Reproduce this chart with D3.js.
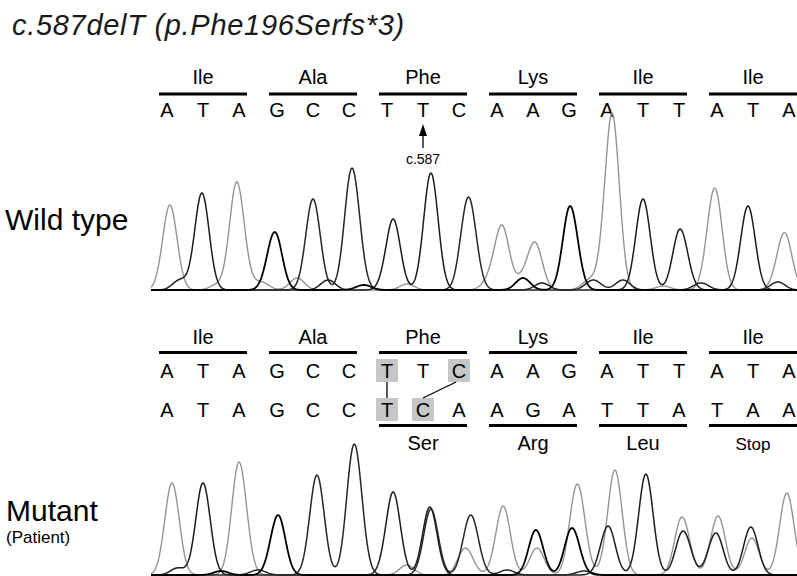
<!DOCTYPE html>
<html>
<head>
<meta charset="utf-8">
<script src="https://cdn.jsdelivr.net/npm/d3@7.9.0/dist/d3.min.js"></script>
<style>
  body { margin: 0; background: #fff; }
  svg { display: block; font-family: "Liberation Sans", Arial, sans-serif; }
</style>
</head>
<body>
<div id="chart"></div>
<script>
const title = 'c.587delT (p.Phe196Serfs*3)';
const codonsWild = ['Ile', 'Ala', 'Phe', 'Lys', 'Ile', 'Ile'];
const codonsShifted = [null, null, 'Ser', 'Arg', 'Leu', 'Stop'];
const basesWild = 'ATAGCCTTCAAGATTATA'.split('');
const basesMutant = 'ATAGCCTCAAGATTATAA'.split('');
const markerBase = 7;
const markerLabel = 'c.587';
const shadedTop = [6, 8];
const shadedBottom = [6, 7];
const shiftLinks = [[6, 6], [8, 7]];

// [base position, signal height, channel]
const peaksWild = [
  [0.08, 85, 'A'], [0.97, 97, 'T'], [1.94, 108, 'A'], [2.94, 58, 'G'], [4.0, 91, 'C'], [5.08, 122, 'C'],
  [6.17, 71, 'T'], [7.22, 117, 'T'], [8.25, 93, 'C'], [9.14, 63, 'A'], [10.06, 46, 'A'], [11.03, 84, 'G'],
  [12.14, 177, 'A'], [13.0, 91, 'T'], [14.03, 61, 'T'], [14.94, 102, 'A'], [15.86, 84, 'T'], [16.89, 52, 'A'],
  [0.36, 10, 'T'], [1.39, 5, 'A'], [2.58, 8, 'A'], [3.56, 12, 'A'], [4.42, 10, 'T'], [5.39, 5, 'G'],
  [6.56, 6, 'A'], [8.8, 8, 'A'], [9.7, 10, 'A'], [9.72, 12, 'G'], [10.25, 7, 'T'], [11.55, 10, 'A'],
  [11.64, 10, 'C'], [12.44, 10, 'C'], [13.56, 4, 'A'], [14.58, 7, 'C'], [16.7, 8, 'A'], [16.69, 8, 'C'],
];

const peaksMutant = [
  [0.14, 92, 'A'], [1.0, 92, 'T'], [2.0, 113, 'A'], [3.03, 60, 'G'], [4.11, 100, 'C'], [5.14, 131, 'C'],
  [6.17, 83, 'T'], [7.19, 68, 'T'], [7.22, 66, 'C'], [8.31, 60, 'C'], [8.17, 27, 'A'], [9.17, 69, 'A'],
  [10.08, 45, 'G'], [10.11, 27, 'A'], [11.08, 47, 'G'], [11.22, 91, 'A'], [12.22, 105, 'A'], [12.03, 49, 'T'],
  [13.08, 101, 'T'], [14.08, 58, 'A'], [14.11, 44, 'T'], [15.03, 59, 'A'], [14.97, 42, 'T'], [15.94, 48, 'T'],
  [15.97, 37, 'A'], [16.94, 82, 'A'],
  [0.3, 7, 'T'], [1.5, 4, 'G'], [2.5, 5, 'C'], [6.55, 10, 'A'], [9.28, 5, 'C'], [11.4, 4, 'C'],
];

const channelStyle = {
  A: { color: '#949494', width: 1.4 },
  C: { color: '#262626', width: 1.5 },
  G: { color: '#000', width: 1.8 },
  T: { color: '#1c1c1c', width: 1.5 },
};

const width = 797;
const height = 576;

const svg = d3.select('#chart')
  .append('svg')
  .attr('width', width)
  .attr('height', height);

const codonX = d3.scaleBand()
  .domain(d3.range(codonsWild.length))
  .range([159, 797])
  .paddingInner(0.2);

const baseOffset = 36;
const basesX = d3.range(basesWild.length).map((i) =>
  codonX(Math.floor(i / 3)) + codonX.bandwidth() / 2 + ((i % 3) - 1) * baseOffset);

const xBase = d3.scaleLinear()
  .domain(d3.range(basesWild.length))
  .range(basesX);

svg.append('text')
  .attr('x', 12)
  .attr('y', 35)
  .attr('font-size', 29)
  .attr('font-style', 'italic')
  .attr('letter-spacing', 0.7)
  .attr('fill', '#1a1a1a')
  .text(title);

svg.append('text').attr('x', 5).attr('y', 230).attr('font-size', 30).text('Wild type');
svg.append('text').attr('x', 6).attr('y', 521).attr('font-size', 30).text('Mutant');
svg.append('text').attr('x', 6).attr('y', 543).attr('font-size', 17).text('(Patient)');

function drawCodons(g, labels, labelY, barY) {
  const codon = g.selectAll('g.codon')
    .data(labels.map((d, i) => ({ label: d, i })).filter((d) => d.label))
    .join('g')
    .attr('class', 'codon');

  codon.append('line')
    .attr('x1', (d) => codonX(d.i))
    .attr('x2', (d) => codonX(d.i) + codonX.bandwidth())
    .attr('y1', barY)
    .attr('y2', barY)
    .attr('stroke', '#000')
    .attr('stroke-width', 3);

  codon.append('text')
    .attr('x', (d) => codonX(d.i) + codonX.bandwidth() / 2)
    .attr('y', labelY)
    .attr('text-anchor', 'middle')
    .attr('font-size', (d) => (d.label === 'Stop' ? 17 : 20))
    .text((d) => d.label);
}

function drawBases(g, bases, baselineY, shaded) {
  g.selectAll('rect.shade')
    .data(shaded)
    .join('rect')
    .attr('class', 'shade')
    .attr('x', (i) => xBase(i) - 11)
    .attr('y', baselineY - 19)
    .attr('width', 22)
    .attr('height', 23)
    .attr('fill', '#c6c6c6');

  g.selectAll('text.base')
    .data(bases)
    .join('text')
    .attr('class', 'base')
    .attr('x', (d, i) => xBase(i))
    .attr('y', baselineY)
    .attr('text-anchor', 'middle')
    .attr('font-size', 20)
    .text((d) => d);
}

function drawTrace(g, peaks, baseY, id) {
  const y = d3.scaleLinear().domain([0, 180]).range([baseY, baseY - 180]);
  const sigma = 0.2;
  const samples = d3.range(-0.8, basesWild.length + 0.8, 0.02);
  const channels = ['A', 'T', 'C', 'G'];

  g.append('clipPath')
    .attr('id', id)
    .append('rect')
    .attr('x', 151)
    .attr('y', 0)
    .attr('width', width - 151)
    .attr('height', height);

  const line = d3.line()
    .x((d) => xBase(d[0]))
    .y((d) => y(d[1]));

  g.append('g')
    .attr('clip-path', `url(#${id})`)
    .selectAll('path')
    .data(channels)
    .join('path')
    .attr('fill', 'none')
    .attr('stroke', (c) => channelStyle[c].color)
    .attr('stroke-width', (c) => channelStyle[c].width)
    .attr('stroke-linejoin', 'round')
    .attr('d', (c) => {
      const own = peaks.filter((p) => p[2] === c);
      return line(samples.map((s) => [
        s,
        d3.sum(own, (p) => p[1] * Math.exp(-((s - p[0]) ** 2) / (2 * sigma * sigma))),
      ]));
    });
}

// wild type
const wild = svg.append('g');
drawCodons(wild, codonsWild, 84, 94);
drawBases(wild, basesWild, 117, []);

wild.append('line')
  .attr('x1', xBase(markerBase))
  .attr('x2', xBase(markerBase))
  .attr('y1', 148)
  .attr('y2', 131)
  .attr('stroke', '#000')
  .attr('stroke-width', 1.3);

wild.append('path')
  .attr('d', d3.line()([
    [xBase(markerBase), 124],
    [xBase(markerBase) - 4, 136],
    [xBase(markerBase) + 4, 136],
  ]))
  .attr('fill', '#000');

wild.append('text')
  .attr('x', xBase(markerBase))
  .attr('y', 164)
  .attr('text-anchor', 'middle')
  .attr('font-size', 14)
  .text(markerLabel);

drawTrace(wild, peaksWild, 290, 'clip-wild');

// mutant
const mutant = svg.append('g');
drawCodons(mutant, codonsWild, 344, 352.5);
drawBases(mutant.append('g'), basesWild, 378, shadedTop);
drawBases(mutant.append('g'), basesMutant, 417, shadedBottom);
drawCodons(mutant.append('g'), codonsShifted, 450, 425.5);

mutant.selectAll('line.shift')
  .data(shiftLinks)
  .join('line')
  .attr('class', 'shift')
  .attr('x1', (d) => xBase(d[0]) - (d[0] === d[1] ? 0 : 3))
  .attr('y1', 382)
  .attr('x2', (d) => xBase(d[1]))
  .attr('y2', 398)
  .attr('stroke', '#000')
  .attr('stroke-width', 1.3);

drawTrace(mutant, peaksMutant, 575, 'clip-mutant');
</script>
</body>
</html>
